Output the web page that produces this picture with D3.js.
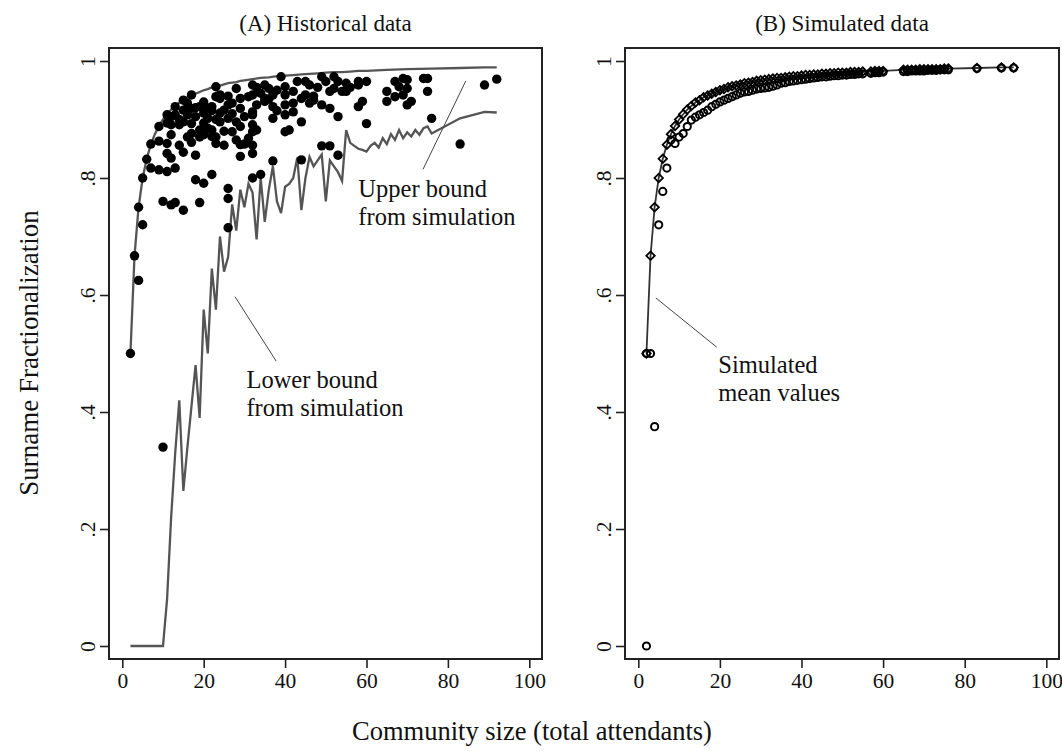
<!DOCTYPE html>
<html><head><meta charset="utf-8">
<script src="https://cdn.jsdelivr.net/npm/d3@7"></script>
<style>
html,body{margin:0;padding:0;background:#fff;}
svg{display:block;}
text{font-family:"Liberation Serif","Times New Roman",serif;fill:#111;}
</style></head>
<body>
<svg id="chart" width="1062" height="751"></svg>
<script>
// ---------- DATA ----------
const xTicks = [0, 20, 40, 60, 80, 100];
const yTicks = [0, 0.2, 0.4, 0.6, 0.8, 1];
const yTickLabels = ["0", ".2", ".4", ".6", ".8", "1"];

// Panel A: historical communities (size, fractionalization)
const histSize = [2,3,4,4,5,5,6,7,9,11,13,15,17,23,10,10,12,13,15,19,26,26,9,11,11,12,12,13,7,9,11,14,15,17,18,18,20,22,26,29,30,32,32,
 11,13,15,15,17,17,18,19,20,20,21,21,22,20,22,23,22,24,24,23,24,25,26,27,25,28,27,28,29,29,30,31,32,28,29,32,32,31,29,24,19,17,16,14,12,
 12,14,16,18,20,22,26,27,19,23,25,21,23,26,16,
 33,32,32,32,33,32,35,35,36,37,37,37,35,39,40,40,40,40,40,41,42,42,42,43,45,44,44,45,46,46,47,49,49,50,51,51,52,52,53,54,55,55,58,58,58,59,60,60,65,65,67,49,51,53,44,37,34,
 69,70,68,70,69,67,71,70,74,75,75,76,83,89,92,
 34,36,38,33,38,47,48,53,56];
const histFrac = [.5,.667,.75,.625,.80,.72,.832,.858,.888,.908,.922,.933,.942,.956,.34,.76,.754,.758,.745,.758,.765,.715,.863,.859,.842,.874,.834,.817,.817,.814,.811,.856,.844,.861,.839,.797,.791,.806,.782,.837,.858,.842,.800,
 .894,.908,.916,.896,.893,.919,.905,.922,.911,.894,.919,.902,.882,.874,.871,.859,.922,.936,.942,.939,.911,.916,.902,.879,.856,.865,.928,.953,.936,.919,.905,.939,.959,.896,.888,.879,.908,.868,.857,.896,.882,.876,.908,.891,.891,
 .905,.900,.928,.920,.930,.915,.940,.910,.870,.870,.880,.885,.900,.925,.870,
 .955,.942,.913,.891,.882,.856,.959,.936,.953,.922,.902,.942,.931,.973,.956,.942,.925,.908,.879,.882,.928,.948,.913,.965,.965,.936,.896,.942,.928,.959,.933,.925,.973,.965,.919,.948,.973,.953,.905,.948,.962,.948,.959,.965,.922,.931,.965,.893,.948,.931,.965,.855,.855,.839,.831,.829,.806,
 .970,.968,.956,.953,.942,.939,.931,.925,.970,.970,.948,.902,.858,.959,.969,
 .945,.935,.950,.925,.915,.940,.955,.965,.955];

// Upper bound from simulation (panel A)
const upperSize = [2,3,4,5,6,7,8,9,10,11,12,13,14,15,16,17,18,19,20,21,22,23,24,25,26,27,28,29,30,32,34,36,38,40,42,44,46,48,50,52,54,56,58,60,65,70,76,83,89,92];
const upperFrac = [.5,.667,.75,.8,.833,.857,.875,.889,.9,.909,.917,.923,.929,.933,.938,.941,.944,.947,.95,.952,.955,.957,.958,.96,.962,.963,.964,.966,.967,.969,.971,.972,.974,.975,.976,.977,.978,.979,.98,.981,.981,.982,.983,.983,.985,.986,.987,.988,.989,.989];

// Lower bound from simulation (panel A)
const lowerSize = [2,3,4,5,6,7,8,9,10,11,12,13,14,15,16,17,18,19,20,21,22,23,24,25,26,27,28,29,30,31,32,33,34,35,36,37,38,39,40,41,42,43,44,45,46,47,48,49,50,51,52,53,54,55,56,57,58,59,60,61,62,63,64,65,66,67,68,69,70,71,72,73,74,75,76,83,89,92];
const lowerFrac = [0,0,0,0,0,0,0,0,0,.08,.22,.33,.42,.265,.34,.41,.48,.39,.575,.50,.645,.575,.70,.64,.665,.755,.71,.78,.75,.79,.775,.695,.80,.725,.78,.82,.76,.74,.785,.79,.80,.835,.745,.80,.836,.82,.83,.84,.76,.83,.82,.81,.795,.882,.86,.855,.85,.848,.845,.855,.86,.852,.868,.858,.875,.865,.882,.868,.878,.871,.882,.874,.885,.888,.876,.902,.913,.912];

// Panel B: simulated mean values (line + diamonds)
const simMeanSize = [2,3,4,5,6,7,8,9,10,11,12,13,14,15,16,17,18,19,20,21,22,23,24,25,26,27,28,29,30,31,32,33,34,35,36,37,38,39,40,41,42,43,44,45,46,47,48,49,50,51,52,53,54,55,57,58,59,60,65,66,67,68,69,70,71,72,73,74,75,76,83,89,92];
const simMeanFrac = [.5,.667,.75,.8,.833,.857,.875,.889,.9,.909,.917,.923,.929,.933,.938,.941,.944,.947,.95,.952,.955,.957,.958,.96,.962,.963,.964,.966,.967,.968,.969,.97,.971,.971,.972,.973,.974,.974,.975,.976,.976,.977,.977,.978,.978,.979,.979,.98,.98,.98,.981,.981,.981,.982,.982,.983,.983,.983,.985,.985,.985,.985,.986,.986,.986,.986,.986,.986,.987,.987,.988,.989,.989];

// Panel B: simulated data (hollow circles)
const simDataSize = [2,2,3,4,5,6,7,8,9,10,11,12,13,14,15,16,17,18,19,20,21,22,23,24,25,26,27,28,29,30,31,32,33,34,35,36,37,38,39,40,41,42,43,44,45,46,47,48,49,50,51,52,53,54,55,57,58,59,60,65,66,67,68,69,70,71,72,73,74,75,76,83,89,92];
const simDataFrac = [0,.5,.5,.375,.72,.777,.817,.865,.859,.870,.876,.888,.899,.904,.908,.912,.916,.922,.926,.930,.933,.936,.939,.942,.945,.947,.948,.950,.952,.953,.954,.955,.957,.959,.962,.963,.965,.966,.967,.968,.969,.970,.971,.972,.973,.973,.974,.975,.975,.976,.976,.977,.977,.978,.978,.979,.980,.980,.981,.982,.982,.983,.983,.983,.983,.984,.984,.984,.985,.985,.985,.987,.988,.988];

// annotation texts
const titleA = "(A) Historical data";
const titleB = "(B) Simulated data";
const xLabel = "Community size (total attendants)";
const yLabel = "Surname Fractionalization";
const upperNote = ["Upper bound", "from simulation"];
const lowerNote = ["Lower bound", "from simulation"];
const meanNote = ["Simulated", "mean values"];

// ---------- DRAW ----------
const svg = d3.select("#chart");
const ink = "#111", lineGray = "#555";

function panel(frame, title) {
  const g = svg.append("g");
  const x = d3.scaleLinear().domain([0, 100]).range([frame.l + 13.3, frame.r - 12.7]);
  const y = d3.scaleLinear().domain([0, 1]).range([frame.b - 13, frame.t + 13]);
  g.append("rect").attr("x", frame.l).attr("y", frame.t)
    .attr("width", frame.r - frame.l).attr("height", frame.b - frame.t)
    .attr("fill", "none").attr("stroke", "#222").attr("stroke-width", 2);
  // x axis
  const xa = g.append("g").attr("transform", `translate(0,${frame.b})`)
    .call(d3.axisBottom(x).tickValues(xTicks).tickSize(9).tickPadding(5).tickFormat(d3.format("d")));
  xa.select(".domain").remove();
  xa.selectAll("line").attr("stroke", "#222").attr("stroke-width", 1.6);
  xa.selectAll("text").attr("font-size", 21.5).attr("fill", ink)
    .attr("font-family", '"Liberation Serif",serif');
  // y axis (rotated labels)
  const ya = g.append("g").attr("transform", `translate(${frame.l},0)`)
    .call(d3.axisLeft(y).tickValues(yTicks).tickSize(9).tickFormat((d, i) => yTickLabels[i]));
  ya.select(".domain").remove();
  ya.selectAll("line").attr("stroke", "#222").attr("stroke-width", 1.6);
  ya.selectAll("text").attr("font-size", 21.5).attr("fill", ink)
    .attr("font-family", '"Liberation Serif",serif')
    .attr("x", null).attr("dy", null)
    .attr("text-anchor", "middle")
    .attr("transform", "translate(-14,0) rotate(-90)");
  g.append("text").attr("x", (frame.l + frame.r) / 2).attr("y", 31)
    .attr("text-anchor", "middle").attr("font-size", 23).text(title);
  return {g, x, y};
}

const A = panel({l: 109, r: 542, t: 48, b: 659}, titleA);
const B = panel({l: 625, r: 1059, t: 48, b: 659}, titleB);

// Panel A lines
const lineA = d3.line().x(d => A.x(d[0])).y(d => A.y(d[1]));
A.g.append("path").datum(upperSize.map((s, i) => [s, upperFrac[i]]))
  .attr("d", lineA).attr("fill", "none").attr("stroke", lineGray).attr("stroke-width", 2.3);
A.g.append("path").datum(lowerSize.map((s, i) => [s, lowerFrac[i]]))
  .attr("d", lineA).attr("fill", "none").attr("stroke", lineGray).attr("stroke-width", 2.3)
  .attr("stroke-linejoin", "miter");
// Panel A points
A.g.append("g").selectAll("circle").data(histSize.map((s, i) => [s, histFrac[i]]))
  .join("circle").attr("cx", d => A.x(d[0])).attr("cy", d => A.y(d[1]))
  .attr("r", 4.7).attr("fill", "#000");

// Panel B
const lineB = d3.line().x(d => B.x(d[0])).y(d => B.y(d[1]));
B.g.append("path").datum(simMeanSize.map((s, i) => [s, simMeanFrac[i]]))
  .attr("d", lineB).attr("fill", "none").attr("stroke", "#333").attr("stroke-width", 1.8);
B.g.append("g").selectAll("circle").data(simDataSize.map((s, i) => [s, simDataFrac[i]]))
  .join("circle").attr("cx", d => B.x(d[0])).attr("cy", d => B.y(d[1]))
  .attr("r", 3.6).attr("fill", "none").attr("stroke", "#000").attr("stroke-width", 2);
const diamond = d3.symbol(d3.symbolSquare, 36)();
B.g.append("g").selectAll("path").data(simMeanSize.map((s, i) => [s, simMeanFrac[i]]))
  .join("path").attr("d", diamond)
  .attr("transform", d => `translate(${B.x(d[0])},${B.y(d[1])}) rotate(45)`)
  .attr("fill", "none").attr("stroke", "#000").attr("stroke-width", 1.8);

// annotations (positions in data units)
function note(P, lines, nx, ny, size) {
  const t = P.g.append("text").attr("font-size", size);
  lines.forEach((s, i) => t.append("tspan").attr("x", P.x(nx)).attr("y", P.y(ny) + i * 28).text(s));
}
function leader(P, a, b) {
  P.g.append("line").attr("x1", P.x(a[0])).attr("y1", P.y(a[1]))
    .attr("x2", P.x(b[0])).attr("y2", P.y(b[1]))
    .attr("stroke", "#444").attr("stroke-width", 1);
}
leader(A, [73.9, 0.815], [84.4, 0.966]);
note(A, upperNote, 58.0, 0.767, 24.5);
leader(A, [27.7, 0.597], [37.8, 0.487]);
note(A, lowerNote, 30.5, 0.441, 24.5);
leader(B, [4.3, 0.595], [19.2, 0.511]);
note(B, meanNote, 19.6, 0.467, 24.5);

// axis titles
svg.append("text").attr("x", 532).attr("y", 740).attr("text-anchor", "middle")
  .attr("font-size", 26.5).text(xLabel);
svg.append("text").attr("transform", "translate(38,353) rotate(-90)")
  .attr("text-anchor", "middle").attr("font-size", 27).text(yLabel);
</script>
</body></html>
